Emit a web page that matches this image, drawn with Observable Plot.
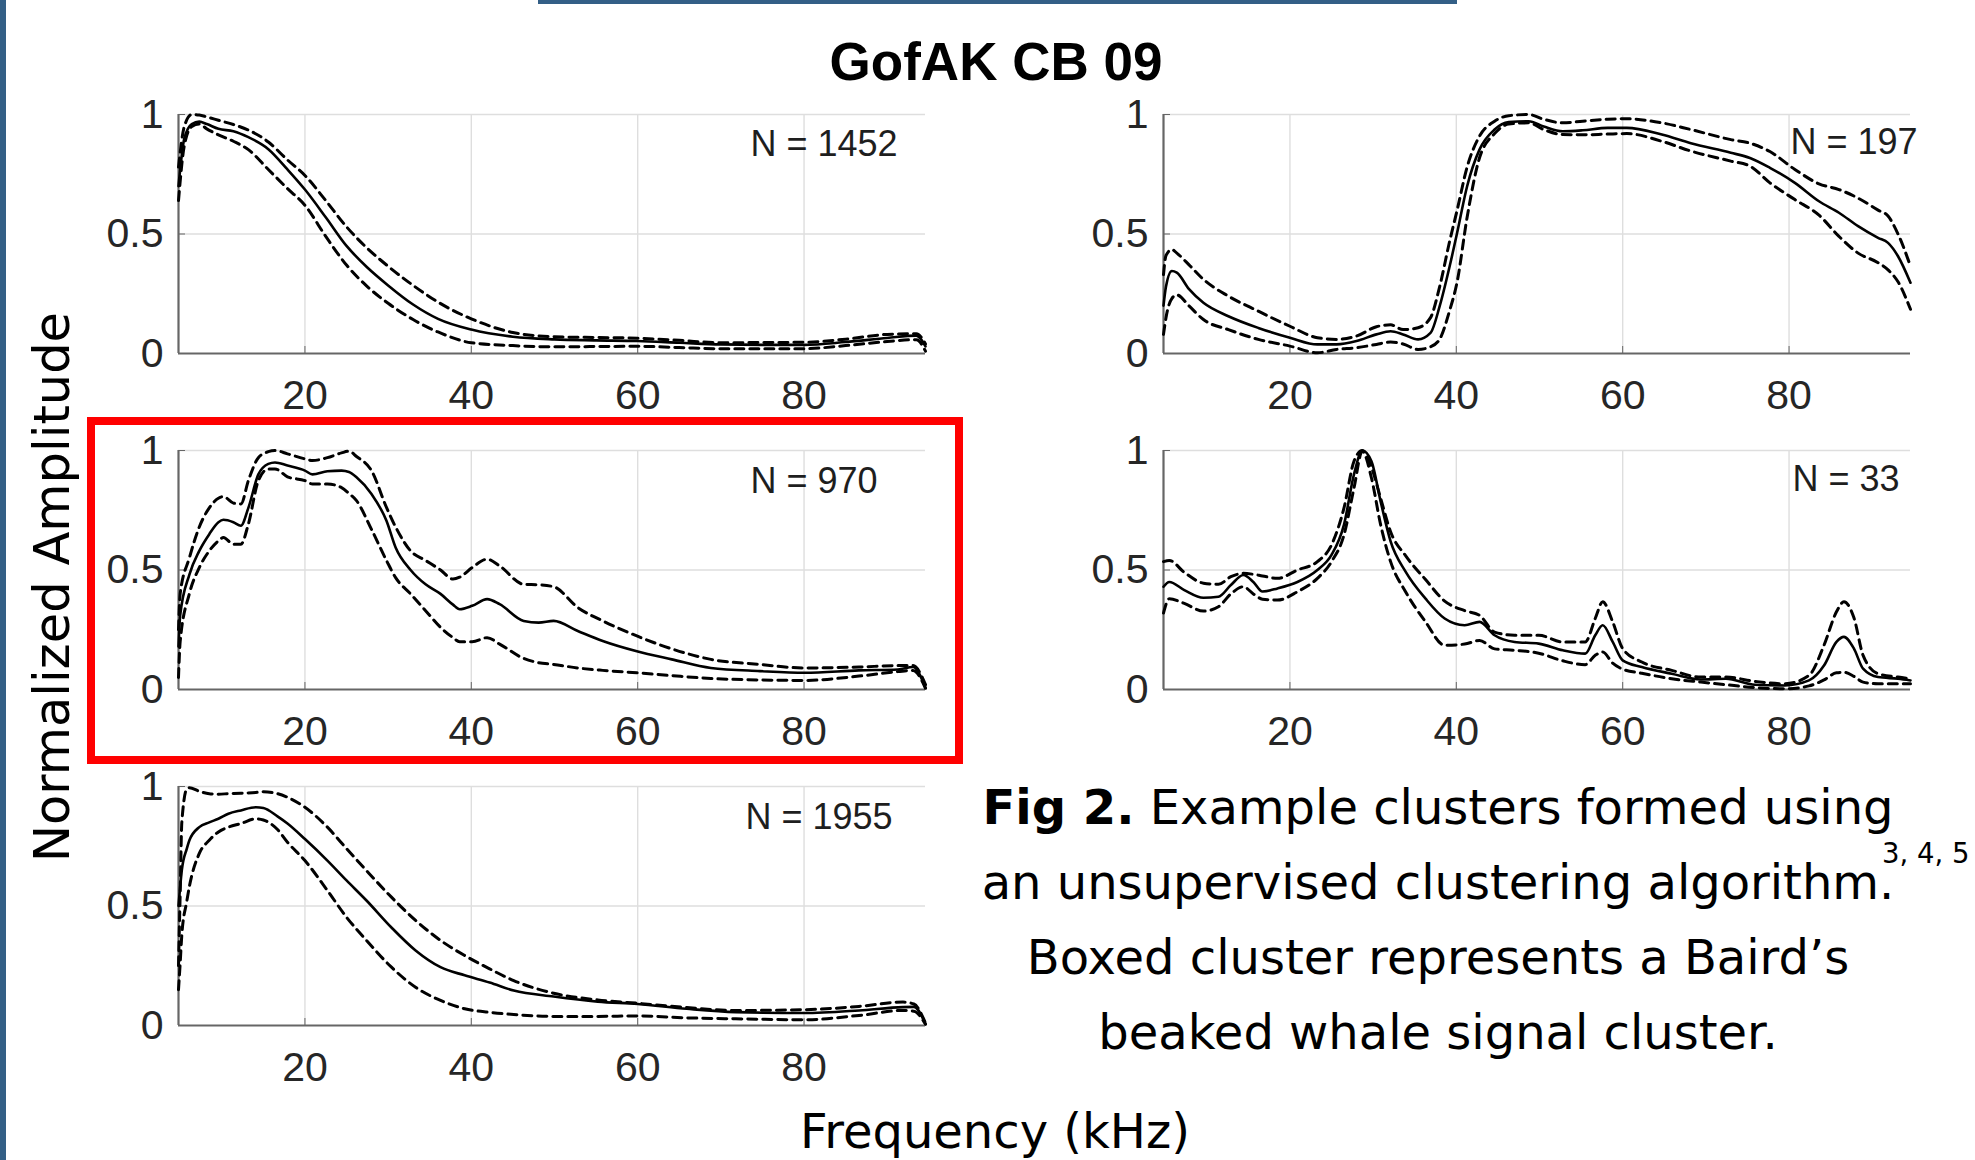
<!DOCTYPE html>
<html><head><meta charset="utf-8">
<script src="https://cdn.jsdelivr.net/npm/d3@7"></script>
<script src="https://cdn.jsdelivr.net/npm/@observablehq/plot@0.6"></script>
<style>
html,body{margin:0;padding:0;background:#fff;}
#page{position:relative;width:1975px;height:1160px;overflow:hidden;background:#fff;}
.panel{position:absolute;}
#overlay{position:absolute;left:0;top:0;pointer-events:none;}
</style></head><body>
<div id="page"></div>
<script>
// ---------- data ----------
const xDomain = [4.8, 94.6];
const yDomain = [0, 1];
const xTicks = [20, 40, 60, 80];
const yTicks = [0, 0.5, 1];
const yTickLabels = ["0", "0.5", "1"];

const title = "GofAK CB 09";
const xLabel = "Frequency (kHz)";
const yLabel = "Normalized Amplitude";
const captionBold = "Fig 2.";
const captionLines = [" Example clusters formed using", "an unsupervised clustering algorithm.", "Boxed cluster represents a Baird\u2019s", "beaked whale signal cluster."];
const captionRef = "3, 4, 5";
const counts = ["N = 1452", "N = 970", "N = 1955", "N = 197", "N = 33"];

const freq1 = [4.8, 5.5, 6.4, 7.3, 8.2, 9.6, 11.4, 13.2, 15.6, 17.9, 20, 22.5, 25, 27.5, 30, 33, 36, 40, 45, 50, 55, 60, 65, 70, 75, 80, 85, 90, 93.5, 94.6];
const mean1 = [0.70, 0.90, 0.96, 0.97, 0.96, 0.94, 0.93, 0.905, 0.855, 0.77, 0.686, 0.57, 0.45, 0.36, 0.285, 0.205, 0.145, 0.10, 0.07, 0.059, 0.055, 0.052, 0.045, 0.038, 0.036, 0.036, 0.048, 0.065, 0.075, 0.03];
const upper1 = [0.78, 0.95, 1.0, 0.998, 0.99, 0.976, 0.958, 0.935, 0.885, 0.81, 0.745, 0.64, 0.53, 0.44, 0.365, 0.285, 0.215, 0.145, 0.088, 0.07, 0.067, 0.064, 0.055, 0.045, 0.046, 0.047, 0.06, 0.08, 0.083, 0.04];
const lower1 = [0.64, 0.87, 0.95, 0.96, 0.94, 0.915, 0.888, 0.853, 0.77, 0.69, 0.62, 0.49, 0.37, 0.28, 0.21, 0.142, 0.09, 0.045, 0.033, 0.028, 0.029, 0.03, 0.025, 0.02, 0.02, 0.02, 0.033, 0.05, 0.058, 0.01];

const freq2 = [4.8, 5.0, 6.1, 7.3, 8.5, 9.6, 10.2, 11.4, 12.3, 13.2, 14.4, 15.6, 16.4, 17.9, 20, 20.9, 22.7, 24.4, 25.3, 26.2, 28, 29.8, 30.9, 32.7, 34.5, 36.3, 37.8, 38.6, 40.1, 41.9, 43.4, 46.3, 48.1, 49.9, 52.8, 55.8, 59.9, 64.1, 68.8, 74.7, 80.1, 86.6, 91.3, 93.1, 94.6];
const mean2 = [0.18, 0.31, 0.48, 0.58, 0.65, 0.70, 0.71, 0.70, 0.685, 0.76, 0.90, 0.944, 0.95, 0.937, 0.916, 0.90, 0.913, 0.916, 0.91, 0.888, 0.818, 0.706, 0.594, 0.50, 0.44, 0.40, 0.355, 0.336, 0.35, 0.378, 0.357, 0.287, 0.28, 0.287, 0.245, 0.203, 0.16, 0.126, 0.09, 0.077, 0.07, 0.08, 0.084, 0.094, 0.007];
const upper2 = [0.25, 0.40, 0.55, 0.68, 0.76, 0.80, 0.807, 0.78, 0.776, 0.874, 0.97, 0.995, 1.0, 0.986, 0.965, 0.958, 0.97, 0.99, 0.997, 0.975, 0.916, 0.762, 0.68, 0.58, 0.54, 0.50, 0.462, 0.47, 0.51, 0.545, 0.517, 0.44, 0.438, 0.43, 0.343, 0.287, 0.224, 0.17, 0.126, 0.105, 0.09, 0.094, 0.10, 0.10, 0.02];
const lower2 = [0.05, 0.20, 0.40, 0.51, 0.58, 0.622, 0.636, 0.608, 0.608, 0.692, 0.874, 0.923, 0.923, 0.89, 0.874, 0.86, 0.86, 0.845, 0.82, 0.79, 0.67, 0.54, 0.468, 0.40, 0.33, 0.26, 0.217, 0.20, 0.20, 0.217, 0.19, 0.13, 0.112, 0.105, 0.09, 0.08, 0.07, 0.058, 0.046, 0.04, 0.038, 0.056, 0.075, 0.08, 0.005];

const freq3 = [4.8, 5.0, 5.2, 5.8, 6.1, 7.3, 8.5, 9.6, 10.8, 12.3, 14.1, 15.0, 16.7, 17.9, 20, 22.7, 25, 27.4, 30.4, 33.3, 36.3, 39.2, 42.2, 45.1, 49.9, 55.2, 60, 65.9, 71.8, 80, 86.6, 91.9, 93.2, 94.6];
const mean3 = [0.50, 0.58, 0.65, 0.74, 0.774, 0.83, 0.85, 0.865, 0.886, 0.90, 0.913, 0.91, 0.875, 0.845, 0.78, 0.69, 0.607, 0.523, 0.41, 0.314, 0.244, 0.21, 0.18, 0.146, 0.121, 0.10, 0.09, 0.07, 0.056, 0.052, 0.063, 0.077, 0.078, 0.007];
const upper3 = [0.25, 0.55, 0.85, 0.99, 0.995, 0.98, 0.97, 0.968, 0.97, 0.972, 0.975, 0.978, 0.97, 0.955, 0.913, 0.83, 0.74, 0.648, 0.537, 0.44, 0.356, 0.293, 0.237, 0.188, 0.135, 0.107, 0.093, 0.075, 0.063, 0.066, 0.08, 0.098, 0.09, 0.01];
const lower3 = [0.15, 0.26, 0.38, 0.52, 0.58, 0.72, 0.775, 0.81, 0.83, 0.845, 0.865, 0.86, 0.82, 0.767, 0.69, 0.565, 0.453, 0.356, 0.244, 0.16, 0.105, 0.07, 0.055, 0.046, 0.038, 0.038, 0.04, 0.032, 0.028, 0.024, 0.042, 0.063, 0.06, 0.005];

const freq4 = [4.8, 5.1, 5.8, 6.4, 7.9, 9.6, 12.6, 16.2, 20, 23.3, 25.6, 28, 30.4, 32.1, 33.6, 35.4, 36.9, 38, 39.2, 40.1, 41.3, 42.8, 44.6, 46.3, 48.7, 50.5, 52.8, 55.2, 58.2, 60.5, 64.7, 68.2, 73, 75.3, 77.7, 80.7, 83.6, 86, 88.3, 90.7, 91.9, 93.1, 94.6];
const mean4 = [0.20, 0.28, 0.345, 0.338, 0.268, 0.212, 0.156, 0.107, 0.066, 0.038, 0.038, 0.052, 0.08, 0.093, 0.08, 0.059, 0.086, 0.198, 0.365, 0.505, 0.70, 0.854, 0.937, 0.968, 0.972, 0.95, 0.93, 0.934, 0.944, 0.944, 0.916, 0.88, 0.84, 0.818, 0.777, 0.714, 0.637, 0.589, 0.533, 0.484, 0.463, 0.407, 0.296];
const upper4 = [0.33, 0.41, 0.435, 0.42, 0.37, 0.31, 0.24, 0.177, 0.114, 0.066, 0.059, 0.073, 0.112, 0.12, 0.10, 0.108, 0.15, 0.28, 0.47, 0.60, 0.78, 0.91, 0.972, 0.995, 1.0, 0.98, 0.965, 0.972, 0.98, 0.982, 0.965, 0.937, 0.895, 0.88, 0.845, 0.77, 0.71, 0.686, 0.65, 0.60, 0.575, 0.50, 0.365];
const lower4 = [0.08, 0.15, 0.23, 0.245, 0.198, 0.142, 0.10, 0.059, 0.031, 0.003, 0.017, 0.024, 0.038, 0.048, 0.04, 0.017, 0.028, 0.06, 0.18, 0.30, 0.57, 0.82, 0.92, 0.96, 0.965, 0.937, 0.916, 0.915, 0.918, 0.92, 0.888, 0.847, 0.805, 0.784, 0.714, 0.644, 0.579, 0.49, 0.42, 0.38, 0.35, 0.30, 0.185];

const freq5 = [4.8, 5.5, 7.3, 9.6, 11.4, 12.9, 14.4, 15.6, 16.7, 18.5, 20.9, 23.3, 25, 26.5, 27.7, 28.7, 29.8, 30.9, 32.1, 33.9, 36.3, 38.6, 41, 42.8, 44.6, 47, 49.9, 52.8, 55.5, 56.7, 57.6, 58.8, 60, 62.3, 65.9, 69.4, 72.4, 75.9, 79.5, 82.4, 84.2, 85.7, 86.6, 87.8, 88.9, 90.7, 93.1, 94.6];
const mean5 = [0.43, 0.45, 0.416, 0.384, 0.388, 0.437, 0.479, 0.45, 0.41, 0.423, 0.45, 0.50, 0.563, 0.69, 0.90, 1.0, 0.955, 0.787, 0.62, 0.493, 0.38, 0.297, 0.269, 0.283, 0.227, 0.199, 0.192, 0.164, 0.15, 0.227, 0.269, 0.199, 0.122, 0.094, 0.066, 0.042, 0.045, 0.02, 0.017, 0.038, 0.10, 0.199, 0.22, 0.171, 0.087, 0.052, 0.045, 0.038];
const upper5 = [0.535, 0.54, 0.49, 0.445, 0.44, 0.472, 0.486, 0.482, 0.475, 0.465, 0.50, 0.535, 0.605, 0.76, 0.955, 1.0, 0.93, 0.80, 0.66, 0.56, 0.46, 0.37, 0.33, 0.31, 0.24, 0.227, 0.227, 0.199, 0.199, 0.297, 0.367, 0.283, 0.171, 0.115, 0.08, 0.052, 0.052, 0.034, 0.024, 0.059, 0.185, 0.325, 0.367, 0.30, 0.143, 0.066, 0.052, 0.045];
const lower5 = [0.32, 0.38, 0.36, 0.328, 0.346, 0.40, 0.43, 0.40, 0.378, 0.374, 0.409, 0.465, 0.535, 0.647, 0.843, 0.997, 0.885, 0.69, 0.535, 0.409, 0.283, 0.185, 0.19, 0.205, 0.17, 0.164, 0.152, 0.12, 0.104, 0.143, 0.157, 0.11, 0.085, 0.068, 0.045, 0.031, 0.02, 0.008, 0.003, 0.015, 0.04, 0.07, 0.072, 0.055, 0.031, 0.024, 0.024, 0.024];

// ---------- layout ----------
const PW = 747, PH = 239;
const M = {l: 90, r: 20, t: 20, b: 75};
const panels = [
  {freq: freq1, mean: mean1, upper: upper1, lower: lower1, n: counts[0], x0: 178.4, y0: 113.5, nx: 572, nb: 41.5},
  {freq: freq2, mean: mean2, upper: upper2, lower: lower2, n: counts[1], x0: 178.4, y0: 449.5, nx: 572, nb: 42},
  {freq: freq3, mean: mean3, upper: upper3, lower: lower3, n: counts[2], x0: 178.4, y0: 785.5, nx: 567, nb: 42.5},
  {freq: freq4, mean: mean4, upper: upper4, lower: lower4, n: counts[3], x0: 1162.5, y0: 113.5, nx: 627, nb: 39.5},
  {freq: freq5, mean: mean5, upper: upper5, lower: lower5, n: counts[4], x0: 1162.5, y0: 449.5, nx: 629, nb: 40.5}
];

const page = document.getElementById("page");
const NFS = 36;

for (const p of panels) {
  const rows = p.freq.map((f, i) => ({f, m: p.mean[i], u: p.upper[i], lo: p.lower[i]}));
  const chart = Plot.plot({
    width: PW + M.l + M.r, height: PH + M.t + M.b,
    marginLeft: M.l, marginRight: M.r, marginTop: M.t, marginBottom: M.b,
    x: {domain: xDomain},
    y: {domain: yDomain},
    style: {background: "transparent", fontFamily: "'Liberation Sans', Arial, Helvetica, sans-serif", fontSize: "41px", color: "#262626", overflow: "visible"},
    marks: [
      Plot.gridX(xTicks, {stroke: "#dedede", strokeOpacity: 1, strokeWidth: 1.4}),
      Plot.gridY([0.5, 1], {stroke: "#dedede", strokeOpacity: 1, strokeWidth: 1.4}),
      Plot.ruleY([yDomain[0]], {stroke: "#666", strokeWidth: 2.2}),
      Plot.ruleX([xDomain[0]], {stroke: "#666", strokeWidth: 2.2}),
      Plot.axisX(xTicks, {tickSize: -7, tickPadding: 33, stroke: "#666", label: null, tickFormat: d => String(d)}),
      Plot.axisY(yTicks, {tickSize: -7, tickPadding: 22, stroke: "#666", label: null, tickFormat: d => yTickLabels[yTicks.indexOf(d)]}),
      Plot.lineY(rows, {x: "f", y: "u", stroke: "#000", strokeWidth: 3, strokeDasharray: "9,6", curve: "monotone-x"}),
      Plot.lineY(rows, {x: "f", y: "lo", stroke: "#000", strokeWidth: 3, strokeDasharray: "9,6", curve: "monotone-x"}),
      Plot.lineY(rows, {x: "f", y: "m", stroke: "#000", strokeWidth: 2.6, curve: "monotone-x"}),
      Plot.text([p.n], {text: d => d, frameAnchor: "top-left", textAnchor: "start", lineAnchor: "top", dx: p.nx, dy: p.nb - 0.71 * NFS, fontSize: NFS, fill: "#1e1e1e"})
    ]
  });
  const wrap = document.createElement("div");
  wrap.className = "panel";
  wrap.style.left = (p.x0 - M.l) + "px";
  wrap.style.top = (p.y0 - M.t) + "px";
  wrap.appendChild(chart);
  page.appendChild(wrap);
}

// ---------- overlay texts & decorations ----------
const blue = "#335f86";
const svg = d3.select(page).append("svg").attr("id", "overlay").attr("width", 1975).attr("height", 1160);
svg.append("rect").attr("x", 0).attr("y", 0).attr("width", 6).attr("height", 1160).attr("fill", blue);
svg.append("rect").attr("x", 538).attr("y", 0).attr("width", 919).attr("height", 4).attr("fill", blue);
svg.append("rect").attr("x", 91).attr("y", 421).attr("width", 868).attr("height", 339)
  .attr("fill", "none").attr("stroke", "#ff0000").attr("stroke-width", 8);

svg.append("text").attr("x", 996).attr("y", 80).attr("text-anchor", "middle")
  .attr("font-family", "'Liberation Sans', Arial, sans-serif").attr("font-weight", "bold").attr("font-size", 53)
  .attr("fill", "#000").text(title);

const poster = "'DejaVu Sans', Verdana, sans-serif";
svg.append("text").attr("transform", "translate(69,587) rotate(-90)").attr("text-anchor", "middle")
  .attr("font-family", poster).attr("font-size", 49.5).attr("fill", "#000").text(yLabel);
svg.append("text").attr("x", 995).attr("y", 1148).attr("text-anchor", "middle")
  .attr("font-family", poster).attr("font-size", 48).attr("fill", "#000").text(xLabel);

const capY = [824, 899, 974, 1049];
captionLines.forEach((line, i) => {
  const t = svg.append("text").attr("x", 1438).attr("y", capY[i]).attr("text-anchor", "middle")
    .attr("font-family", poster).attr("font-size", 48).attr("fill", "#000");
  if (i === 0) {
    t.append("tspan").attr("font-weight", "bold").text(captionBold);
    t.append("tspan").text(line);
  } else {
    t.text(line);
  }
});
svg.append("text").attr("x", 1882).attr("y", 863).attr("font-family", poster).attr("font-size", 27.5)
  .attr("fill", "#000").text(captionRef);
</script>
</body></html>
